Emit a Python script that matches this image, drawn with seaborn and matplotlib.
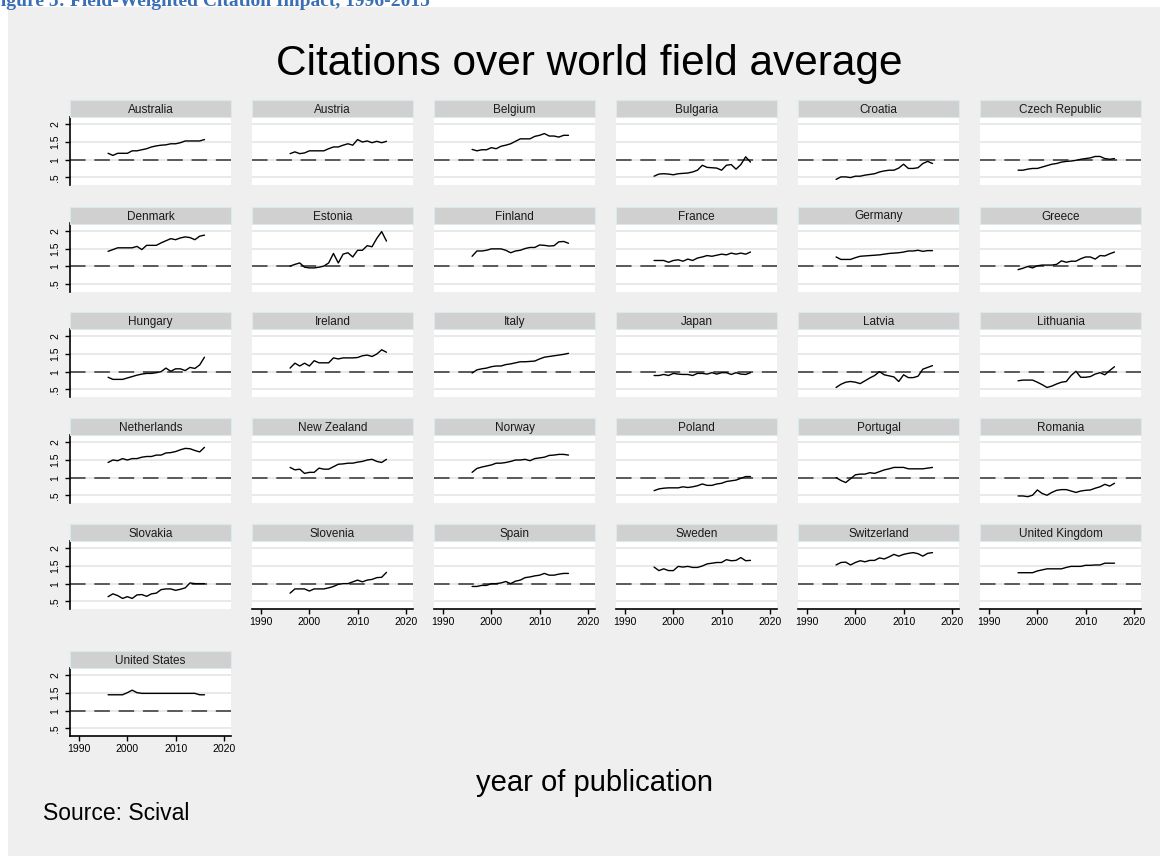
import matplotlib
matplotlib.use("Agg")
import matplotlib.pyplot as plt
from matplotlib.patches import Rectangle
import pandas as pd
import seaborn as sns

# Publication years covered by every series
years = list(range(1996, 2017))

countries = [
    "Australia", "Austria", "Belgium", "Bulgaria", "Croatia", "Czech Republic",
    "Denmark", "Estonia", "Finland", "France", "Germany", "Greece",
    "Hungary", "Ireland", "Italy", "Japan", "Latvia", "Lithuania",
    "Netherlands", "New Zealand", "Norway", "Poland", "Portugal", "Romania",
    "Slovakia", "Slovenia", "Spain", "Sweden", "Switzerland", "United Kingdom",
    "United States",
]

# Field-weighted citation impact (world average = 1), 1996-2016
australia = [1.18, 1.12, 1.18, 1.18, 1.18, 1.25, 1.25, 1.28, 1.31, 1.36, 1.39,
             1.41, 1.42, 1.45, 1.45, 1.48, 1.53, 1.53, 1.53, 1.53, 1.57]
austria = [1.17, 1.22, 1.17, 1.19, 1.25, 1.25, 1.25, 1.25, 1.31, 1.36, 1.36,
           1.41, 1.45, 1.41, 1.57, 1.50, 1.53, 1.48, 1.52, 1.48, 1.52]
belgium = [1.29, 1.25, 1.28, 1.28, 1.34, 1.31, 1.38, 1.41, 1.45, 1.52, 1.59,
           1.59, 1.59, 1.66, 1.69, 1.74, 1.67, 1.67, 1.64, 1.69, 1.69]
bulgaria = [0.53, 0.59, 0.60, 0.59, 0.57, 0.60, 0.61, 0.62, 0.65, 0.70, 0.84,
            0.78, 0.77, 0.76, 0.70, 0.84, 0.86, 0.73, 0.86, 1.08, 0.93]
croatia = [0.44, 0.51, 0.51, 0.49, 0.53, 0.53, 0.56, 0.58, 0.60, 0.65, 0.68,
           0.70, 0.70, 0.76, 0.87, 0.75, 0.75, 0.77, 0.89, 0.95, 0.89]
czech_republic = [0.70, 0.70, 0.73, 0.75, 0.75, 0.79, 0.83, 0.87, 0.89, 0.93, 0.95,
                  0.96, 0.98, 1.01, 1.03, 1.05, 1.09, 1.09, 1.03, 1.01, 1.03]
denmark = [1.42, 1.47, 1.52, 1.52, 1.52, 1.52, 1.56, 1.47, 1.59, 1.59, 1.59,
           1.66, 1.72, 1.78, 1.75, 1.80, 1.83, 1.81, 1.75, 1.85, 1.88]
estonia = [1.00, 1.05, 1.09, 0.97, 0.95, 0.95, 0.97, 1.00, 1.09, 1.36, 1.09,
           1.34, 1.38, 1.26, 1.45, 1.45, 1.58, 1.55, 1.79, 1.98, 1.71]
finland = [1.28, 1.43, 1.43, 1.45, 1.49, 1.49, 1.49, 1.45, 1.38, 1.43, 1.45,
           1.50, 1.53, 1.53, 1.60, 1.59, 1.57, 1.58, 1.69, 1.70, 1.65]
france = [1.16, 1.16, 1.16, 1.11, 1.16, 1.18, 1.14, 1.20, 1.16, 1.23, 1.26,
          1.30, 1.28, 1.31, 1.34, 1.32, 1.37, 1.34, 1.37, 1.34, 1.40]
germany = [1.26, 1.19, 1.19, 1.19, 1.24, 1.28, 1.29, 1.30, 1.31, 1.32, 1.34,
           1.36, 1.37, 1.38, 1.40, 1.43, 1.43, 1.45, 1.42, 1.44, 1.44]
greece = [0.90, 0.94, 0.99, 0.95, 1.01, 1.03, 1.03, 1.03, 1.05, 1.15, 1.11,
          1.14, 1.14, 1.21, 1.26, 1.26, 1.20, 1.30, 1.29, 1.35, 1.40]
hungary = [0.84, 0.78, 0.78, 0.78, 0.82, 0.86, 0.90, 0.93, 0.95, 0.95, 0.97,
           1.00, 1.10, 1.01, 1.08, 1.08, 1.03, 1.12, 1.09, 1.19, 1.41]
ireland = [1.10, 1.24, 1.16, 1.24, 1.16, 1.31, 1.25, 1.25, 1.25, 1.39, 1.36,
           1.39, 1.39, 1.39, 1.40, 1.45, 1.47, 1.43, 1.50, 1.62, 1.55]
italy = [0.96, 1.05, 1.08, 1.10, 1.14, 1.16, 1.16, 1.20, 1.22, 1.25, 1.28,
         1.28, 1.29, 1.30, 1.36, 1.41, 1.43, 1.45, 1.47, 1.49, 1.52]
japan = [0.89, 0.89, 0.92, 0.89, 0.95, 0.93, 0.92, 0.92, 0.89, 0.95, 0.95,
         0.93, 0.97, 0.93, 0.97, 0.97, 0.92, 0.97, 0.93, 0.92, 0.97]
latvia = [0.55, 0.64, 0.70, 0.72, 0.70, 0.66, 0.74, 0.82, 0.89, 1.00, 0.91,
          0.88, 0.85, 0.72, 0.91, 0.83, 0.83, 0.87, 1.07, 1.12, 1.17]
lithuania = [0.74, 0.76, 0.76, 0.76, 0.70, 0.63, 0.55, 0.59, 0.65, 0.70, 0.72,
             0.89, 1.01, 0.84, 0.84, 0.86, 0.93, 0.97, 0.91, 1.03, 1.14]
netherlands = [1.43, 1.50, 1.48, 1.54, 1.50, 1.54, 1.54, 1.58, 1.60, 1.60, 1.64,
               1.64, 1.70, 1.71, 1.74, 1.79, 1.83, 1.82, 1.77, 1.73, 1.86]
new_zealand = [1.29, 1.22, 1.24, 1.12, 1.15, 1.15, 1.27, 1.24, 1.24, 1.31, 1.38,
               1.39, 1.41, 1.41, 1.44, 1.46, 1.50, 1.52, 1.46, 1.43, 1.52]
norway = [1.15, 1.26, 1.30, 1.33, 1.36, 1.41, 1.41, 1.43, 1.46, 1.50, 1.50,
          1.52, 1.48, 1.54, 1.56, 1.58, 1.63, 1.64, 1.66, 1.66, 1.64]
poland = [0.63, 0.68, 0.70, 0.71, 0.71, 0.71, 0.74, 0.72, 0.74, 0.77, 0.82,
          0.78, 0.78, 0.82, 0.84, 0.89, 0.91, 0.93, 0.98, 1.03, 1.03]
portugal = [1.00, 0.92, 0.86, 0.97, 1.08, 1.10, 1.10, 1.14, 1.12, 1.17, 1.22,
            1.25, 1.29, 1.29, 1.29, 1.25, 1.25, 1.25, 1.25, 1.27, 1.29]
romania = [0.48, 0.48, 0.46, 0.50, 0.65, 0.55, 0.50, 0.58, 0.64, 0.66, 0.66,
           0.62, 0.58, 0.62, 0.64, 0.65, 0.70, 0.74, 0.81, 0.76, 0.84]
slovakia = [0.63, 0.71, 0.66, 0.58, 0.63, 0.58, 0.68, 0.69, 0.64, 0.71, 0.73,
            0.83, 0.85, 0.85, 0.81, 0.84, 0.88, 1.02, 1.00, 1.00, 1.00]
slovenia = [0.73, 0.85, 0.85, 0.85, 0.79, 0.85, 0.85, 0.85, 0.88, 0.92, 0.98,
            1.00, 1.00, 1.05, 1.10, 1.05, 1.10, 1.12, 1.17, 1.18, 1.32]
spain = [0.92, 0.92, 0.95, 0.95, 1.00, 1.00, 1.02, 1.06, 1.00, 1.07, 1.10,
         1.17, 1.19, 1.22, 1.24, 1.29, 1.24, 1.24, 1.27, 1.29, 1.29]
sweden = [1.47, 1.37, 1.42, 1.37, 1.37, 1.49, 1.47, 1.49, 1.46, 1.46, 1.50,
          1.56, 1.58, 1.60, 1.60, 1.68, 1.65, 1.66, 1.74, 1.65, 1.66]
switzerland = [1.53, 1.60, 1.61, 1.53, 1.60, 1.65, 1.62, 1.66, 1.66, 1.73, 1.70,
               1.76, 1.83, 1.78, 1.83, 1.86, 1.88, 1.85, 1.78, 1.86, 1.88]
united_kingdom = [1.31, 1.31, 1.31, 1.31, 1.36, 1.39, 1.42, 1.42, 1.42, 1.42, 1.46,
                  1.49, 1.49, 1.49, 1.52, 1.52, 1.53, 1.53, 1.58, 1.58, 1.58]
united_states = [1.45, 1.45, 1.45, 1.45, 1.51, 1.58, 1.51, 1.49, 1.49, 1.49, 1.49,
                 1.49, 1.49, 1.49, 1.49, 1.49, 1.49, 1.49, 1.49, 1.45, 1.45]

series = [australia, austria, belgium, bulgaria, croatia, czech_republic,
          denmark, estonia, finland, france, germany, greece,
          hungary, ireland, italy, japan, latvia, lithuania,
          netherlands, new_zealand, norway, poland, portugal, romania,
          slovakia, slovenia, spain, sweden, switzerland, united_kingdom,
          united_states]

y_ticks = [0.5, 1.0, 1.5, 2.0]
y_tick_labels = [".5", "1", "1.5", "2"]
x_ticks = [1990, 2000, 2010, 2020]

df = pd.DataFrame(
    [(c, yr, v) for c, vals in zip(countries, series) for yr, v in zip(years, vals)],
    columns=["country", "year", "fwci"],
)

sns.set_theme(style="white")
plt.rcParams["font.family"] = ["Liberation Sans", "DejaVu Sans"]

W, H = 1176, 856
fig = plt.figure(figsize=(W / 100, H / 100), dpi=100, facecolor="white")

# light grey graph region
fig.patches.append(Rectangle((8 / W, 0), (1160 - 8) / W, (H - 7) / H,
                             transform=fig.transFigure, facecolor="#efefef",
                             edgecolor="none", zorder=-10))

# caption line above the graph region
fig.text(-11 / W, 1 - 6 / H, "Figure 5: Field-Weighted Citation Impact, 1996-2015",
         family="Liberation Serif", weight="bold", fontsize=14,
         color="#3a6fb5", ha="left", va="baseline")

fig.text(589 / W, 1 - 64 / H, "Citations over world field average",
         fontsize=30.5, ha="center", va="center", color="black")
fig.text(595 / W, 1 - 783 / H, "year of publication",
         fontsize=21, ha="center", va="center", color="black")
fig.text(43 / W, 1 - 813 / H, "Source: Scival",
         fontsize=16.5, ha="left", va="center", color="black")

ncol = 6
col_left = [70 + 182 * i for i in range(ncol)]
panel_w = 161
header_tops = [100, 206.5, 312, 418, 524, 651]
header_h = 17
plot_h = 68
n = len(countries)

for i, country in enumerate(countries):
    r, c = divmod(i, ncol)
    top = header_tops[r] + header_h
    ax = fig.add_axes([col_left[c] / W, 1 - (top + plot_h) / H, panel_w / W, plot_h / H])
    ax.set_facecolor("white")

    ax.set_xlim(1988.1, 2021.5)
    ax.set_ylim(0.28, 2.21)
    ax.set_yticks(y_ticks)
    ax.set_xticks(x_ticks)
    ax.grid(axis="y", color="#e9e9e9", lw=1.4, zorder=0)
    ax.grid(axis="x", visible=False)
    ax.axhline(1.0, color="#5a5a5a", lw=1.4, ls=(0, (8.0, 4.5)), zorder=1)

    sns.lineplot(data=df[df["country"] == country], x="year", y="fwci",
                 ax=ax, color="black", lw=1.0, zorder=3)
    ax.set_xlabel("")
    ax.set_ylabel("")

    for s in ax.spines.values():
        s.set_visible(False)

    # panel header strip
    ax.add_patch(Rectangle((0, 1), 1, header_h / plot_h, transform=ax.transAxes,
                           facecolor="#d0d0d0", edgecolor="#dbe8ee", lw=0.8,
                           clip_on=False, zorder=5))
    ax.text(0.5, 1 + header_h / plot_h / 2, country, transform=ax.transAxes,
            ha="center", va="center_baseline", fontsize=8.5, color="#1a1a1a",
            zorder=6)

    first_col = c == 0
    bottom_row = (i + ncol >= n)
    if first_col:
        ax.spines["left"].set_visible(True)
        ax.spines["left"].set_color("black")
        ax.spines["left"].set_linewidth(1.2)
        ax.set_yticklabels(y_tick_labels)
        ax.tick_params(axis="y", left=True, length=3.6, width=1, pad=3.5,
                       labelsize=7.5, colors="black")
        for lab in ax.get_yticklabels():
            lab.set_rotation(90)
            lab.set_va("center")
    else:
        ax.tick_params(axis="y", left=False, labelleft=False)

    if bottom_row:
        ax.spines["bottom"].set_visible(True)
        ax.spines["bottom"].set_color("black")
        ax.spines["bottom"].set_linewidth(1.2)
        ax.tick_params(axis="x", bottom=True, length=3.6, width=1, pad=2,
                       labelsize=7.5, colors="black")
    else:
        ax.tick_params(axis="x", bottom=False, labelbottom=False)

fig.savefig("out.png", dpi=100, facecolor="white")
